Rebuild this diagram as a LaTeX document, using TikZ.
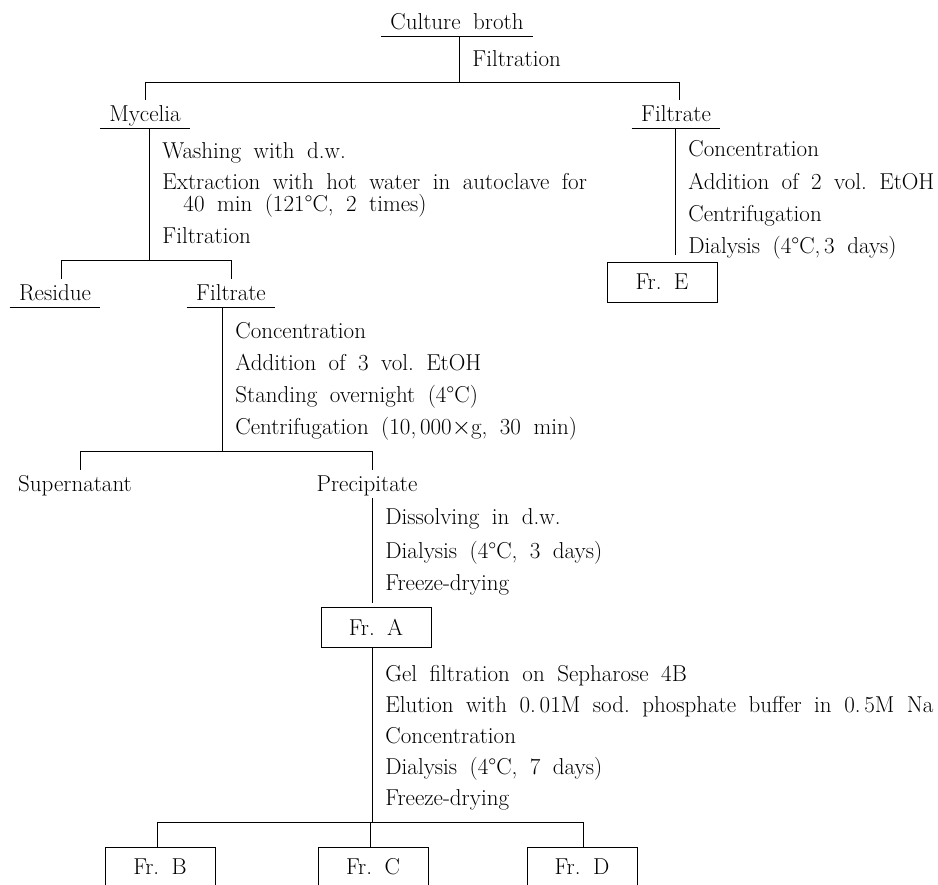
\documentclass[tikz,border=0pt]{standalone}
\usepackage{tikz}
\newcommand{\stepfont}{\fontsize{23}{27}\selectfont\frenchspacing\spaceskip=12.5pt\relax}

\begin{document}
\begin{tikzpicture}[x=1pt,y=-1pt,line width=0.9pt,
        every node/.style={font=\stepfont},
        lbl/.style={text height=16pt,text depth=0pt,inner xsep=9pt,inner ysep=6pt,anchor=base},
        txt/.style={anchor=base west,inner sep=0pt},
        frbox/.style={draw,line width=0.7pt,minimum width=110pt,minimum height=40pt,inner sep=0pt}]
    \useasboundingbox (0,0) rectangle (938,885);
    \clip (0,0) rectangle (938,885);

    \node[lbl] (broth) at (457,30) {Culture broth};
    \node[txt] (f0) at (472,67) {Filtration};
    \node[lbl] (myc) at (145,122) {Mycelia};
    \node[lbl] (filtE) at (676,122) {Filtrate};

    \node[txt] (e1) at (688,157) {Concentration};
    \node[txt] (e2) at (688,190) {Addition of 2 vol. EtOH};
    \node[txt] (e3) at (688,222) {Centrifugation};
    \node[txt] (e4) at (688,254) {Dialysis (4\textdegree C,\,3 days)};
    \node[frbox] (frE) at (662,282) {Fr. E};

    \node[txt] (m1) at (162,159) {Washing with d.w.};
    \node[txt] (m2) at (162,190) {Extraction with hot water in autoclave for};
    \node[txt] (m2b) at (183,212) {40 min (121\textdegree C, 2 times)};
    \node[txt] (m3) at (162,244) {Filtration};

    \node[lbl] (res) at (55,301) {Residue};
    \node[lbl] (filtA) at (231,301) {Filtrate};

    \node[txt] (a1) at (235,339) {Concentration};
    \node[txt] (a2) at (235,371) {Addition of 3 vol. EtOH};
    \node[txt] (a3) at (235,403) {Standing overnight (4\textdegree C)};
    \node[txt] (a4) at (235,435) {Centrifugation (10,\,000$\times$g, 30 min)};

    \node[lbl] (sup) at (75,492) {Supernatant};
    \node[lbl] (prec) at (367,492) {Precipitate};

    \node[txt] (p1) at (385,525) {Dissolving in d.w.};
    \node[txt] (p2) at (385,558) {Dialysis (4\textdegree C, 3 days)};
    \node[txt] (p3) at (385,590) {Freeze-drying};
    \node[frbox] (frA) at (376,627) {Fr. A};

    \node[txt] (g1) at (385,681) {Gel filtration on Sepharose 4B};
    \node[txt] (g2) at (385,712) {Elution with 0.\,01M sod. phosphate buffer in 0.\,5M Na};
    \node[txt] (g3) at (385,743) {Concentration};
    \node[txt] (g4) at (385,774) {Dialysis (4\textdegree C, 7 days)};
    \node[txt] (g5) at (385,805) {Freeze-drying};

    \node[frbox] (frB) at (160,867) {Fr. B};
    \node[frbox] (frC) at (373,867) {Fr. C};
    \node[frbox] (frD) at (582,867) {Fr. D};

    % underlines
    \foreach \n in {broth,myc,filtE,res,filtA}
        \draw (\n.south west) -- (\n.south east);

    % branching
    \coordinate (b0) at (459,82);
    \coordinate (b0l) at (145,82);
    \coordinate (b0r) at (679,82);
    \draw (broth.south -| b0) -- (b0);
    \draw (b0l |- myc.north) -- (b0l) -- (b0r) -- (b0r |- filtE.north);

    \coordinate (v1) at (675,255);
    \draw (filtE.south -| v1) -- (v1);

    \coordinate (b1) at (149,260);
    \coordinate (b1l) at (61,260);
    \coordinate (b1r) at (231,260);
    \draw (myc.south -| b1) -- (b1);
    \draw (b1l |- res.north) -- (b1l) -- (b1r) -- (b1r |- filtA.north);

    \coordinate (b2) at (222,451);
    \coordinate (b2l) at (80,451);
    \coordinate (b2r) at (372,451);
    \draw (filtA.south -| b2) -- (b2);
    \draw (b2l |- sup.north) -- (b2l) -- (b2r) -- (b2r |- prec.north);

    \coordinate (v2) at (372,603);
    \draw (prec.south -| v2) -- (v2);

    \coordinate (b3) at (372,822);
    \coordinate (b3l) at (157,822);
    \coordinate (b3c) at (370,822);
    \coordinate (b3r) at (583,822);
    \draw (frA.south -| b3) -- (b3);
    \draw (b3l |- frB.north) -- (b3l) -- (b3r) -- (b3r |- frD.north);
    \draw (b3c) -- (b3c |- frC.north);
\end{tikzpicture}
\end{document}
